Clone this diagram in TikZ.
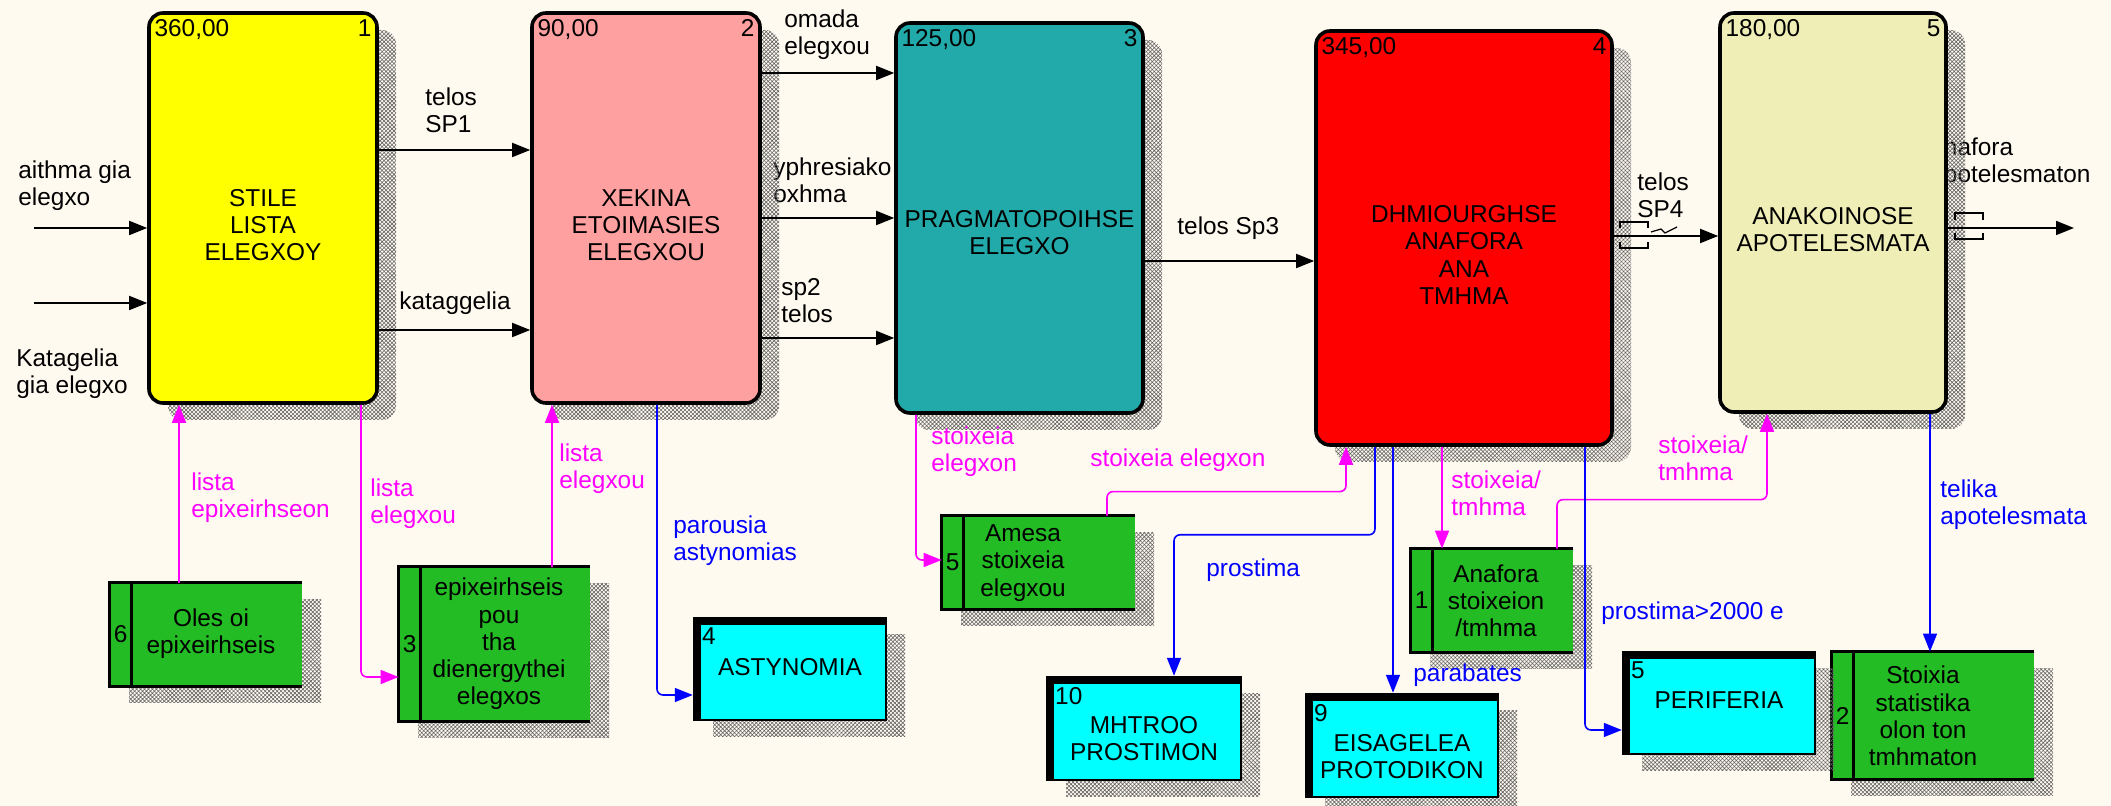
\documentclass[tikz,border=0pt]{standalone}
\usepackage{fontspec}
\setmainfont{Liberation Sans}
\usetikzlibrary{arrows.meta,shadows,patterns.meta}

\definecolor{bgc}{HTML}{FFFAF0}
\definecolor{boxyellow}{HTML}{FFFF00}
\definecolor{boxpink}{HTML}{FFA0A0}
\definecolor{boxteal}{HTML}{22AAAA}
\definecolor{boxred}{HTML}{FF0000}
\definecolor{boxcream}{HTML}{EFEEB6}
\definecolor{storegreen}{HTML}{24BC24}
\definecolor{entcyan}{HTML}{00FFFF}
\definecolor{linkmag}{HTML}{FF00FF}
\definecolor{linkblue}{HTML}{0000FF}

\begin{document}
\begin{tikzpicture}[
  x=0.5pt,
  y=-0.5pt,
  every node/.style={font=\fontsize{12.2}{13.6}\selectfont},
  hatchshadow/.style={
    drop shadow={shadow xshift=9.5pt, shadow yshift=-8.5pt, opacity=1,
      pattern={Hatch[distance=1.4pt,angle=45,line width=0.3pt]},
      pattern color=black!60}
  },
  process/.style={
    rounded corners=7pt,
    draw=black,
    line width=1.8pt,
    inner sep=0pt,
    hatchshadow
  },
  hdr/.style={inner xsep=3.5pt, inner ysep=4pt},
  boxtext/.style={align=center, inner sep=0pt},
  store/.style={fill=storegreen, inner sep=0pt, hatchshadow},
  storeline/.style={line width=1.8pt},
  entity/.style={
    fill=entcyan,
    draw=black,
    line width=1.2pt,
    inner sep=0pt,
    hatchshadow,
    path picture={
      \fill[black] (path picture bounding box.north west)
        rectangle ([yshift=-3.5pt]path picture bounding box.north east);
      \fill[black] (path picture bounding box.north west)
        rectangle ([xshift=3.5pt]path picture bounding box.south west);
    }
  },
  entnum/.style={anchor=north west, inner xsep=4.5pt, inner ysep=5.5pt},
  lbl/.style={anchor=west, align=left, inner sep=0pt},
  flow/.style={draw=black, line width=0.9pt, -{Triangle[length=9pt,width=7pt]}},
  flowm/.style={flow, draw=linkmag, line width=0.8pt, rounded corners=3pt},
  flowb/.style={flow, draw=linkblue, line width=0.8pt, rounded corners=3pt},
  tunnel/.style={draw=black, line width=0.6pt}
]

% page
\fill[bgc] (0,0) rectangle (2111,806);
\useasboundingbox (0,0) rectangle (2111,806);

% control flow labels first, the boxes and shadows may cover them
\node[lbl] (la1)  at (18,185.5)  {aithma gia\\elegxo};
\node[lbl] (la2)  at (16,374)    {Katagelia\\gia elegxo};
\node[lbl] (la3)  at (425,110)   {telos\\SP1};
\node[lbl] (la4)  at (399,303)   {kataggelia};
\node[lbl] (la5)  at (784,35)    {omada\\elegxou};
\node[lbl] (la6)  at (773,180)   {yphresiako\\oxhma};
\node[lbl] (la7)  at (781,301)   {sp2\\telos};
\node[lbl] (la8)  at (1177,228)  {telos Sp3};
\node[lbl] (la9)  at (1637,195)  {telos\\SP4};
\node[lbl] (la10) at (1930,163)  {anafora\\apotelesmaton};

% processes
\node[process, fill=boxyellow, minimum width=114pt, minimum height=195pt,
  label={[hdr,anchor=north west]north west:{360,00}},
  label={[hdr,anchor=north east]north east:1}] (p1) at (263,208) {};
\node[process, fill=boxpink, minimum width=114pt, minimum height=195pt,
  label={[hdr,anchor=north west]north west:{90,00}},
  label={[hdr,anchor=north east]north east:2}] (p2) at (646,208) {};
\node[process, fill=boxteal, minimum width=123.5pt, minimum height=195pt,
  label={[hdr,anchor=north west]north west:{125,00}},
  label={[hdr,anchor=north east]north east:3}] (p3) at (1019.5,218) {};
\node[process, fill=boxred, minimum width=148pt, minimum height=207pt,
  label={[hdr,anchor=north west]north west:{345,00}},
  label={[hdr,anchor=north east]north east:4}] (p4) at (1464,238) {};
\node[process, fill=boxcream, minimum width=113pt, minimum height=199.5pt,
  label={[hdr,anchor=north west]north west:{180,00}},
  label={[hdr,anchor=north east]north east:5}] (p5) at (1833,212.5) {};

\node[boxtext] (p1t) at (263,225)    {STILE\\LISTA\\ELEGXOY};
\node[boxtext] (p2t) at (646,225)    {XEKINA\\ETOIMASIES\\ELEGXOU};
\node[boxtext] (p3t) at (1019.5,233) {PRAGMATOPOIHSE\\ELEGXO};
\node[boxtext] (p4t) at (1464,255)   {DHMIOURGHSE\\ANAFORA\\ANA\\TMHMA};
\node[boxtext] (p5t) at (1833,230)   {ANAKOINOSE\\APOTELESMATA};

% data stores
\node[store, minimum width=96pt,   minimum height=51.5pt] (st6) at (206,634.5)  {};
\node[store, minimum width=95.5pt, minimum height=77pt]   (st3) at (494.5,644)  {};
\node[store, minimum width=96.5pt, minimum height=46.5pt] (st5) at (1038.5,562.5) {};
\node[store, minimum width=81pt,   minimum height=51.5pt] (st1) at (1492,600.5) {};
\node[store, minimum width=101pt,  minimum height=63.5pt] (st2) at (1933,715.5) {};

\foreach \s in {st6,st3,st5,st1,st2}
  \draw[storeline] (\s.north east) -- (\s.north west) -- (\s.south west) -- (\s.south east)
    ([xshift=11pt]\s.north west) -- ([xshift=11pt]\s.south west);

\node[boxtext] (st6n) at ([xshift=5.5pt]st6.west) {6};
\node[boxtext] (st3n) at ([xshift=5.5pt]st3.west) {3};
\node[boxtext] (st5n) at ([xshift=5.5pt]st5.west) {5};
\node[boxtext] (st1n) at ([xshift=5.5pt]st1.west) {1};
\node[boxtext] (st2n) at ([xshift=5.5pt]st2.west) {2};

\node[boxtext] (st6t) at (211,634)  {Oles oi\\epixeirhseis};
\node[boxtext] (st3t) at (499,644)  {epixeirhseis\\pou\\tha\\dienergythei\\elegxos};
\node[boxtext] (st5t) at (1023,563) {Amesa\\stoixeia\\elegxou};
\node[boxtext] (st1t) at (1496,601) {Anafora\\stoixeion\\/tmhma};
\node[boxtext] (st2t) at (1923,716) {Stoixia\\statistika\\olon ton\\tmhmaton};

% external entities
\node[entity, minimum width=96pt, minimum height=51pt,
  label={[entnum]north west:4}]  (e4)  at (790,669)    {};
\node[entity, minimum width=97pt, minimum height=51.5pt,
  label={[entnum]north west:10}] (e10) at (1144,728.5) {};
\node[entity, minimum width=96pt, minimum height=51.5pt,
  label={[entnum]north west:9}]  (e9)  at (1402,745.5) {};
\node[entity, minimum width=96pt, minimum height=51pt,
  label={[entnum]north west:5}]  (e5)  at (1719,703)   {};

\node[boxtext] (e4t)  at (790,667)    {ASTYNOMIA};
\node[boxtext] (e10t) at (1144,739)   {MHTROO\\PROSTIMON};
\node[boxtext] (e9t)  at (1402,756.5) {EISAGELEA\\PROTODIKON};
\node[boxtext] (e5t)  at (1719,700)   {PERIFERIA};

% data flow labels
\node[lbl, text=linkmag]  (lm1) at (191,498)  {lista\\epixeirhseon};
\node[lbl, text=linkmag]  (lm2) at (370,504)  {lista\\elegxou};
\node[lbl, text=linkmag]  (lm3) at (559,469)  {lista\\elegxou};
\node[lbl, text=linkblue] (lb1) at (673,541)  {parousia\\astynomias};
\node[lbl, text=linkmag]  (lm4) at (931,452)  {stoixeia\\elegxon};
\node[lbl, text=linkmag]  (lm5) at (1090,460) {stoixeia elegxon};
\node[lbl, text=linkblue] (lb2) at (1206,570) {prostima};
\node[lbl, text=linkblue] (lb3) at (1413,675) {parabates};
\node[lbl, text=linkmag]  (lm6) at (1451,493) {stoixeia/\\tmhma};
\node[lbl, text=linkmag]  (lm7) at (1658,458) {stoixeia/\\tmhma};
\node[lbl, text=linkblue] (lb4) at (1601,613) {prostima>2000 e};
\node[lbl, text=linkblue] (lb5) at (1940,505) {telika\\apotelesmata};

% outside ends
\coordinate (in1) at (34,228);
\coordinate (in2) at (34,303);
\coordinate (out5) at (2074,228);

% control flow between processes
\draw[flow] (in1) -- (in1 -| p1.west);
\draw[flow] (in2) -- (in2 -| p1.west);
\draw[flow] (p1.east |- 0,150) -- (p2.west |- 0,150);
\draw[flow] (p1.east |- 0,330) -- (p2.west |- 0,330);
\draw[flow] (p2.east |- 0,73)  -- (p3.west |- 0,73);
\draw[flow] (p2.east |- 0,218) -- (p3.west |- 0,218);
\draw[flow] (p2.east |- 0,338) -- (p3.west |- 0,338);
\draw[flow] (p3.east |- 0,261) -- (p4.west |- 0,261);
\draw[flow] (p4.east |- 0,236) -- (p5.west |- 0,236);
\draw[flow] (p5.east |- out5) -- (out5);

% tunnels
\draw[tunnel] (1620,228) |- (1648,222) -- (1648,228);
\draw[tunnel] (1620,242) |- (1648,248) -- (1648,242);
\draw[tunnel] (1651,232) -- (1661,229) -- (1665,233) -- (1677,227);
\draw[tunnel] (1955,220) |- (1983,213) -- (1983,220);
\draw[tunnel] (1955,233) |- (1983,239) -- (1983,233);

% data flows
\draw[flowm] (st6.north -| 179,0) -- (p1.south -| 179,0);
\draw[flowm] (p1.south -| 361,0) |- (st3.west |- 0,677);
\draw[flowm] (st3.north -| 552,0) -- (p2.south -| 552,0);
\draw[flowb] (p2.south -| 657,0) |- (e4.west |- 0,695);
\draw[flowm] (p3.south -| 916,0) |- (st5.west |- 0,560);
\draw[flowm] (st5.north -| 1107,0) -- ++(0,-24) -| (p4.south -| 1346,0);
\draw[flowb] (p4.south -| 1375,0) -- ++(0,88) -| (e10.north -| 1174,0);
\draw[flowb] (p4.south -| 1393,0) -- (e9.north -| 1393,0);
\draw[flowm] (p4.south -| 1442,0) -- (st1.north -| 1442,0);
\draw[flowm] (st1.north -| 1557,0) -- ++(0,-49) -| (p5.south -| 1767,0);
\draw[flowb] (p4.south -| 1585,0) |- (e5.west |- 0,730);
\draw[flowb] (p5.south -| 1930,0) -- (st2.north -| 1930,0);

\end{tikzpicture}
\end{document}
